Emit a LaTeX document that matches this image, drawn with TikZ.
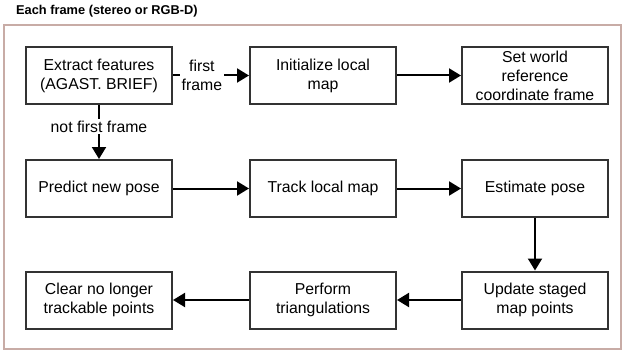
\documentclass[tikz,border=0pt]{standalone}
\usepackage{fontspec}
\setmainfont{Liberation Sans}
\usetikzlibrary{arrows.meta}
\begin{document}
\begin{tikzpicture}[x=1pt,y=-1pt,
  box/.style={draw=black!80,line width=2pt,minimum width=146pt,minimum height=57pt,align=center,font=\fontsize{15.8}{19}\selectfont,inner sep=0pt},
  conn/.style={line width=2pt,-{Triangle[length=12pt,width=14pt]}},
  lbl/.style={fill=white,align=center,font=\fontsize{15.8}{19}\selectfont,inner sep=2pt}]
\useasboundingbox (0,0) rectangle (623,350);
\node[anchor=west,font=\bfseries\fontsize{12.8}{15}\selectfont,inner sep=0pt] (title) at (16,11) {Each frame (stereo or RGB-D)};
\draw[draw={rgb,255:red,200;green,172;blue,166},line width=1.3pt] (4,25) -- (621,25) -- (621,349) -- (4,349) -- cycle;
\node[box] (extract) at (99,75.5) {Extract features\\(AGAST. BRIEF)};
\node[box] (init) at (323,75.5) {Initialize local\\map};
\node[box] (world) at (535,75.5) {Set world\\reference\\coordinate frame};
\node[box] (predict) at (99,188.5) {Predict new pose};
\node[box] (track) at (323,188.5) {Track local map};
\node[box] (estimate) at (535,188.5) {Estimate pose};
\node[box] (clear) at (99,300) {Clear no longer\\trackable points};
\node[box] (tri) at (323,300) {Perform\\triangulations};
\node[box] (update) at (535,300) {Update staged\\map points};
\draw[conn] (extract) -- node[lbl,pos=0.38] (ff) {first\\frame} (init);
\draw[conn] (extract) -- node[lbl,pos=0.4] (nff) {not first frame} (predict);
\draw[conn] (init) -- (world);
\draw[conn] (predict) -- (track);
\draw[conn] (track) -- (estimate);
\draw[conn] (estimate) -- (update);
\draw[conn] (update) -- (tri);
\draw[conn] (tri) -- (clear);
\end{tikzpicture}
\end{document}
